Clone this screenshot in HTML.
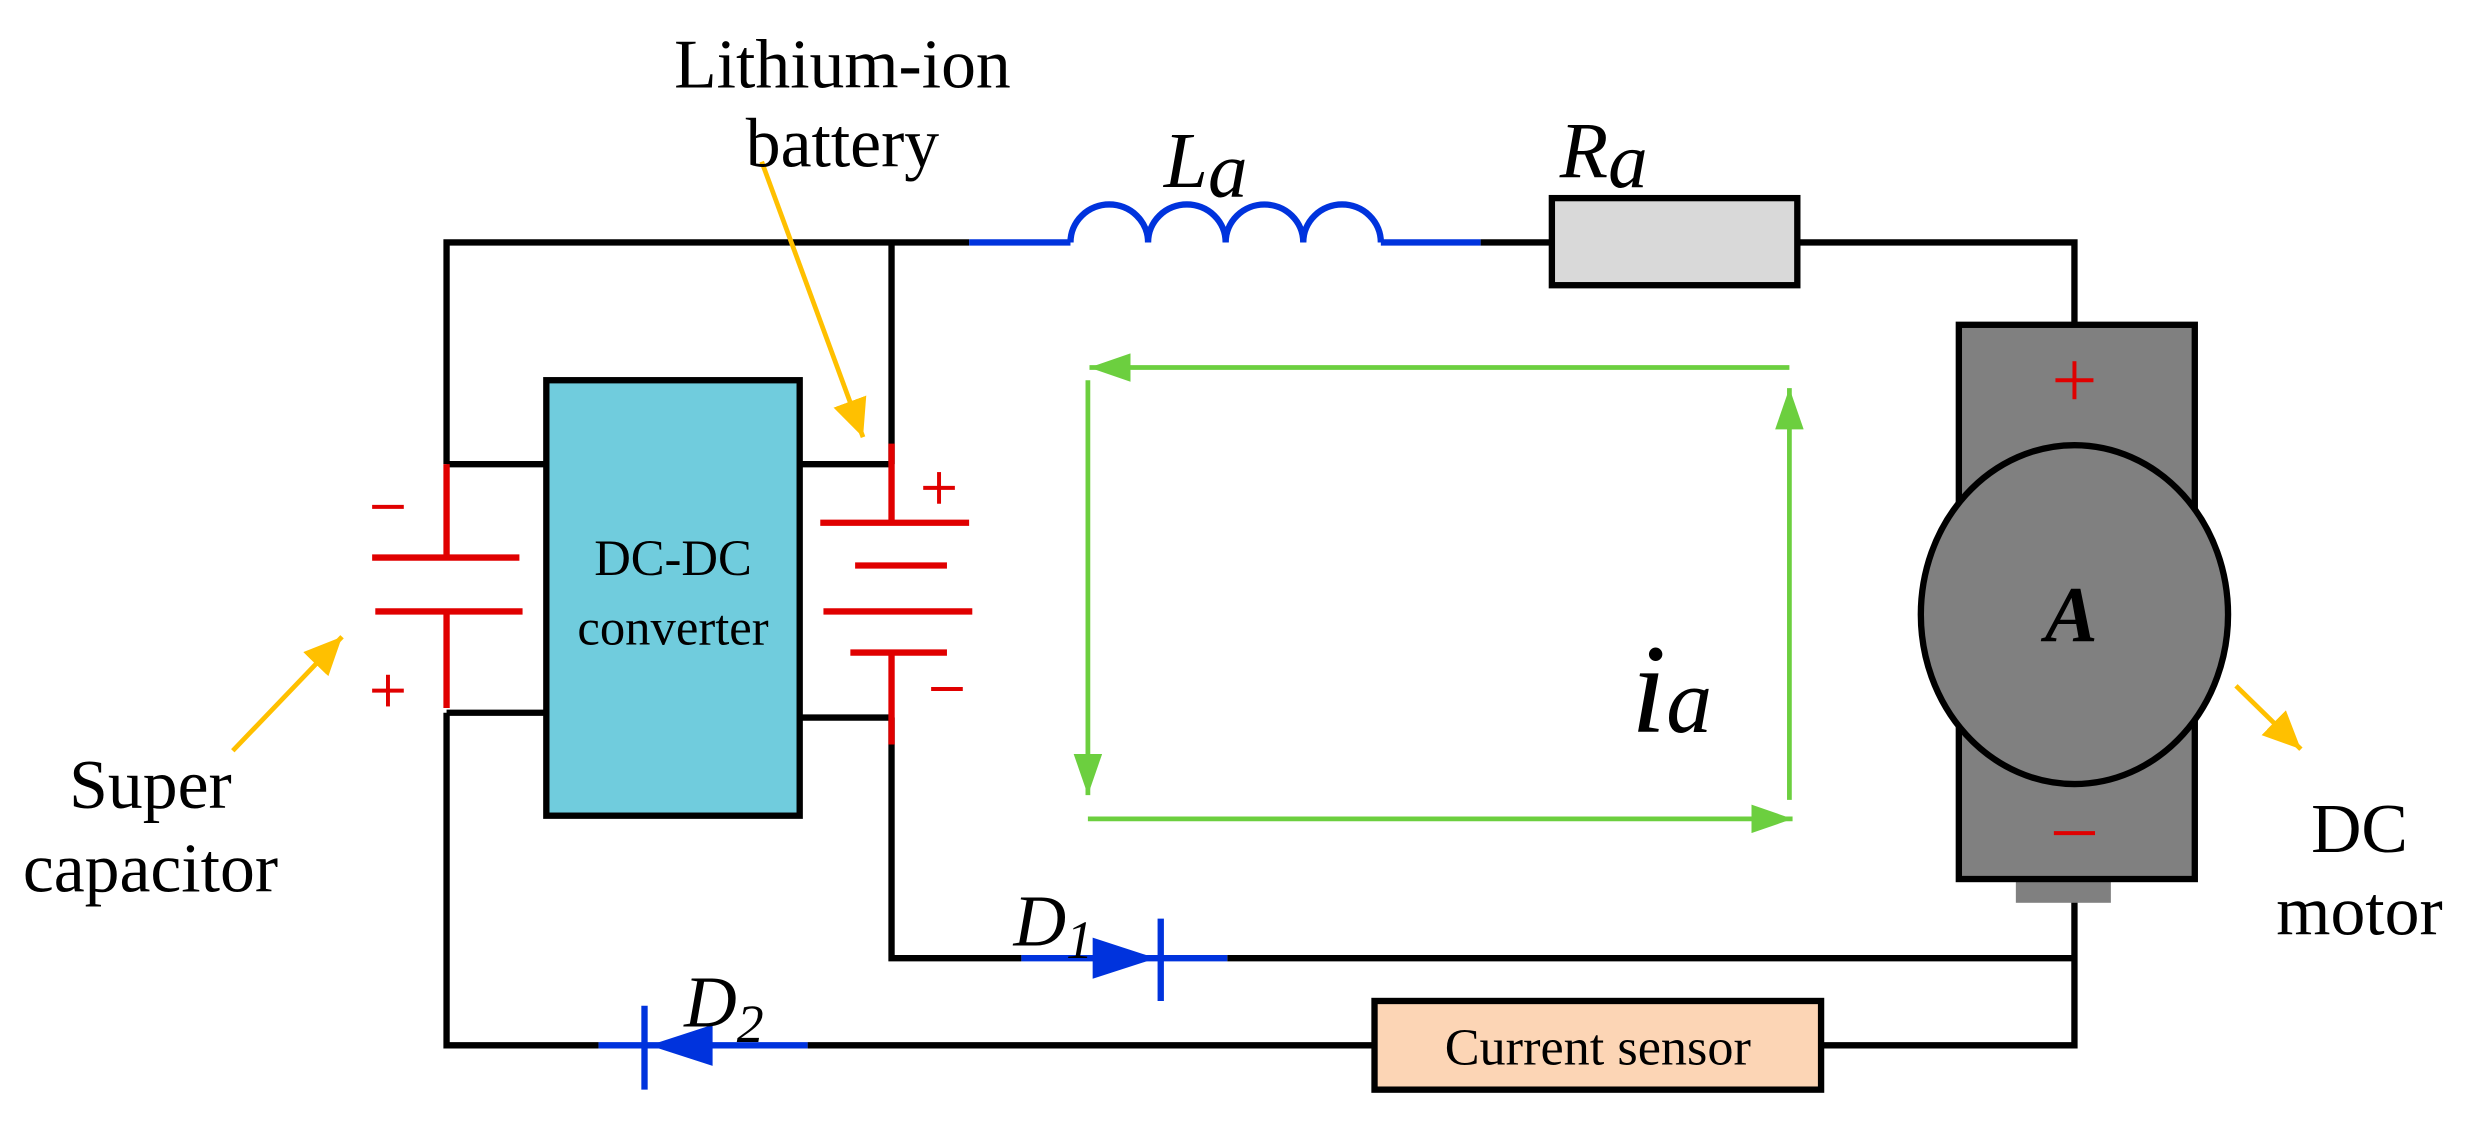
<!DOCTYPE html>
<html><head><meta charset="utf-8"><style>html,body{margin:0;padding:0;background:#fff}svg{display:block}</style></head>
<body>
<svg width="2483" height="1131" viewBox="0 0 1568 714" xmlns="http://www.w3.org/2000/svg" font-family="Liberation Serif, serif">
<defs>
<marker id="g" markerWidth="26" markerHeight="18" refX="26" refY="9" orient="auto" markerUnits="userSpaceOnUse" viewBox="0 0 26 18"><path d="M0,0 L26,9 L0,18z" fill="#6ccf3f"/></marker>
<marker id="y" markerWidth="24" markerHeight="22" refX="24" refY="11" orient="auto" markerUnits="userSpaceOnUse" viewBox="0 0 24 22"><path d="M0,0 L24,11 L0,22z" fill="#ffc000"/></marker>
</defs>
<g stroke="#000" stroke-width="4" fill="none">
<polyline points="282,293 282,153 612,153"/>
<line x1="935" y1="153" x2="980" y2="153"/>
<polyline points="1135,153 1310,153 1310,205"/>
<line x1="563" y1="153" x2="563" y2="293"/>
<line x1="282" y1="293" x2="345" y2="293"/>
<line x1="505" y1="293" x2="563" y2="293"/>
<line x1="282" y1="450" x2="345" y2="450"/>
<line x1="505" y1="453" x2="563" y2="453"/>
<polyline points="282,450 282,660 378,660"/>
<line x1="510" y1="660" x2="868" y2="660"/>
<polyline points="1150,660 1310,660 1310,565"/>
<polyline points="563,453 563,605 645,605"/>
<line x1="775" y1="605" x2="1310" y2="605"/>
</g>
<g stroke="#0033dd" stroke-width="4" fill="none">
<line x1="612" y1="153" x2="676" y2="153"/>
<path d="M676,153 a24.5,24 0 0 1 49,0 a24.5,24 0 0 1 49,0 a24.5,24 0 0 1 49,0 a24.5,24 0 0 1 49,0"/>
<line x1="872" y1="153" x2="935" y2="153"/>
<line x1="645" y1="605" x2="775" y2="605"/>
<line x1="733" y1="580" x2="733" y2="632"/>
<line x1="378" y1="660" x2="510" y2="660"/>
<line x1="407" y1="635" x2="407" y2="688"/>
</g>
<path d="M690,592 L730,605 L690,618z" fill="#0033dd"/>
<path d="M450,647 L410,660 L450,673z" fill="#0033dd"/>
<rect x="980" y="125" width="155" height="55" fill="#d9d9d9" stroke="#000" stroke-width="4"/>
<rect x="345" y="240" width="160" height="275" fill="#70ccdd" stroke="#000" stroke-width="4"/>
<text x="425" y="363" font-size="32" text-anchor="middle">DC-DC</text>
<text x="425" y="407" font-size="32" text-anchor="middle">converter</text>
<g stroke="#e00000" stroke-width="4">
<line x1="282" y1="293" x2="282" y2="352"/>
<line x1="235" y1="352" x2="328" y2="352"/>
<line x1="237" y1="386" x2="330" y2="386"/>
<line x1="282" y1="386" x2="282" y2="447"/>
<line x1="563" y1="280" x2="563" y2="330"/>
<line x1="518" y1="330" x2="612" y2="330"/>
<line x1="540" y1="357" x2="598" y2="357"/>
<line x1="520" y1="386" x2="614" y2="386"/>
<line x1="537" y1="412" x2="598" y2="412"/>
<line x1="563" y1="412" x2="563" y2="470"/>
</g>
<g stroke="#e00000" stroke-width="2.5">
<line x1="235" y1="320" x2="255" y2="320"/>
<line x1="235" y1="436" x2="255" y2="436"/><line x1="245" y1="426" x2="245" y2="446"/>
<line x1="583" y1="308" x2="603" y2="308"/><line x1="593" y1="298" x2="593" y2="318"/>
<line x1="588" y1="435" x2="608" y2="435"/>
<line x1="1310" y1="228" x2="1310" y2="252"/><line x1="1298" y1="240" x2="1322" y2="240"/>
<line x1="1297" y1="526" x2="1323" y2="526"/>
</g>
<rect x="1273" y="552" width="60" height="18" fill="#808080"/>
<rect x="1237" y="205" width="149" height="350" fill="#808080" stroke="#000" stroke-width="4"/>
<g stroke="#e00000" stroke-width="2.5"><line x1="1310" y1="228" x2="1310" y2="252"/><line x1="1298" y1="240" x2="1322" y2="240"/><line x1="1297" y1="526" x2="1323" y2="526"/></g>
<ellipse cx="1310" cy="388" rx="97" ry="107" fill="#808080" stroke="#000" stroke-width="4"/>
<text x="1308" y="405" font-size="50" font-weight="bold" font-style="italic" text-anchor="middle">A</text>
<g stroke="#6ccf3f" stroke-width="3" fill="none">
<line x1="1130" y1="232" x2="688" y2="232" marker-end="url(#g)"/>
<line x1="687" y1="240" x2="687" y2="502" marker-end="url(#g)"/>
<line x1="687" y1="517" x2="1132" y2="517" marker-end="url(#g)"/>
<line x1="1130" y1="505" x2="1130" y2="245" marker-end="url(#g)"/>
</g>
<g stroke="#ffc000" stroke-width="3">
<line x1="481" y1="102" x2="545" y2="276" marker-end="url(#y)"/>
<line x1="147" y1="474" x2="216" y2="402" marker-end="url(#y)"/>
<line x1="1412" y1="433" x2="1453" y2="473" marker-end="url(#y)"/>
</g>
<g font-size="44" text-anchor="middle">
<text x="532" y="55">Lithium-ion</text>
<text x="532" y="105">battery</text>
<text x="95" y="510">Super</text>
<text x="95" y="563">capacitor</text>
<text x="1490" y="538">DC</text>
<text x="1490" y="590">motor</text>
</g>
<g font-style="italic" font-size="50">
<text x="735" y="118">L<tspan dy="6">a</tspan></text>
<text x="985" y="112">R<tspan dy="6">a</tspan></text>
<text x="640" y="597" font-size="46">D<tspan font-size="34" dy="8">1</tspan></text>
<text x="432" y="648" font-size="46">D<tspan font-size="34" dy="10">2</tspan></text>
<text x="1030" y="462" font-size="80">i<tspan font-size="58">a</tspan></text>
</g>
<rect x="868" y="632" width="282" height="56" fill="#fcd5b5" stroke="#000" stroke-width="4"/>
<text x="1009" y="672" font-size="33" text-anchor="middle">Current sensor</text>
</svg>
</body></html>
